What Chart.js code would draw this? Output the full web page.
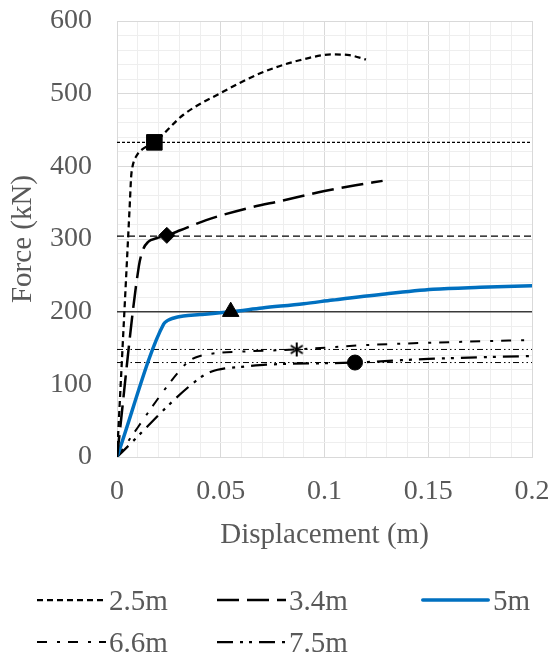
<!DOCTYPE html>
<html><head><meta charset="utf-8">
<script src="https://cdn.jsdelivr.net/npm/chart.js@4.4.1/dist/chart.umd.min.js"></script>
<style>html,body{margin:0;padding:0;background:#fff;}#wrap{width:551px;height:661px;position:relative;}</style>
</head><body><div id="wrap"><canvas id="c" width="551" height="661"></canvas></div>
<script>
// ---- data ----
const seriesNames = ['2.5m', '3.4m', '5m', '6.6m', '7.5m'];

const disp25 = [0, 0.0062, 0.0068, 0.0075, 0.0095, 0.012, 0.018, 0.032, 0.05, 0.069, 0.088, 0.104, 0.112, 0.12];
const force25 = [0, 350, 385, 400, 415, 423, 433, 471, 501, 528, 546, 554, 553, 547];

const disp34 = [0, 0.0105, 0.0125, 0.015, 0.019, 0.024, 0.0305, 0.043, 0.0625, 0.08, 0.1, 0.115, 0.128];
const force34 = [0, 262, 285, 296, 301, 305, 312, 326, 342, 353, 366, 374, 380];

const disp5 = [0, 0.0225, 0.0245, 0.027, 0.032, 0.04, 0.0548, 0.07, 0.09, 0.104, 0.128, 0.1524, 0.175, 0.2];
const force5 = [0, 183, 188, 191, 194, 196, 200, 205, 211, 216, 224, 230.7, 233.5, 235.7];

const disp66 = [0, 0.0305, 0.0352, 0.04, 0.048, 0.06, 0.0866, 0.12, 0.16, 0.2];
const force66 = [0, 120, 133, 139, 143, 145, 148, 154, 158, 161];

const disp75 = [0, 0.04, 0.046, 0.052, 0.06, 0.072, 0.1147, 0.15, 0.2];
const force75 = [0, 109, 118, 122, 124, 127, 130, 135, 139];

const refForces = [433, 304, 200, 148, 130];
const refSpan = [0, 0.2];
const markerDisp = [0.018, 0.024, 0.0548, 0.0866, 0.1147];
const markerForce = [433, 305, 200, 148, 130];

const xTickLabels = ['0', '0.05', '0.1', '0.15', '0.2'];
const yTickLabels = ['0', '100', '200', '300', '400', '500', '600'];

// ---- styles ----
const curveStyles = [
  {color: '#000000', width: 2.25, dash: [6, 4], cap: 'butt'},
  {color: '#000000', width: 2.5, dash: [22, 8], cap: 'butt'},
  {color: '#0070C0', width: 3.5, dash: [], cap: 'round'},
  {color: '#000000', width: 2, dash: [10, 10, 3, 8], cap: 'butt'},
  {color: '#000000', width: 2.25, dash: [16, 7, 3, 6, 3, 7], cap: 'butt'}
];
const refStyles = [
  {color: '#000000', width: 1.2, dash: [3, 2]},
  {color: '#000000', width: 1.2, dash: [7, 4]},
  {color: '#3a3a3a', width: 1.5, dash: []},
  {color: '#000000', width: 1, dash: [6, 3, 1.5, 3, 1.5, 3]},
  {color: '#000000', width: 1, dash: [6, 3, 1.5, 3, 1.5, 3]}
];

// six-armed asterisk marker image
function makeAsterisk() {
  const c = document.createElement('canvas');
  c.width = 16; c.height = 16;
  const g = c.getContext('2d');
  g.strokeStyle = '#000'; g.lineWidth = 2; g.lineCap = 'butt';
  g.beginPath();
  g.moveTo(8, 1); g.lineTo(8, 15);
  g.moveTo(2, 4); g.lineTo(14, 12);
  g.moveTo(2, 12); g.lineTo(14, 4);
  g.stroke();
  return c;
}

const markerStyles = [
  {style: 'rect', r: 11},
  {style: 'rectRot', r: 8},
  {style: 'triangle', r: 9.5},
  {style: makeAsterisk(), r: 8},
  {style: 'circle', r: 7.5}
];

const curveX = [disp25, disp34, disp5, disp66, disp75];
const curveY = [force25, force34, force5, force66, force75];

const zip = (xs, ys) => xs.map((x, i) => ({x: x, y: ys[i]}));

const datasets = [];
markerDisp.forEach((x, i) => {
  datasets.push({
    label: seriesNames[i] + ' marker',
    data: [{x: x, y: markerForce[i]}],
    showLine: false,
    pointStyle: markerStyles[i].style,
    pointRadius: markerStyles[i].r,
    pointBackgroundColor: '#000000',
    pointBorderColor: '#000000',
    pointBorderWidth: 1
  });
});
curveX.forEach((xs, i) => {
  const st = curveStyles[i];
  datasets.push({
    label: seriesNames[i],
    data: zip(xs, curveY[i]),
    showLine: true,
    borderColor: st.color,
    borderWidth: st.width,
    borderDash: st.dash,
    borderCapStyle: st.cap,
    cubicInterpolationMode: 'monotone',
    pointRadius: 0,
    fill: false
  });
});
refForces.forEach((f, i) => {
  const st = refStyles[i];
  datasets.push({
    label: seriesNames[i] + ' ref',
    data: refSpan.map(x => ({x: x, y: f})),
    showLine: true,
    borderColor: st.color,
    borderWidth: st.width,
    borderDash: st.dash,
    pointRadius: 0,
    fill: false
  });
});

const textColor = '#595959';
const fontFamily = '"Liberation Serif", "Times New Roman", serif';

function labelFor(list, v) {
  for (const s of list) { if (Math.abs(Number(s) - v) < 1e-9) return s; }
  return '';
}
function isMajor(list, v) { return labelFor(list, v) !== ''; }

const legendPlugin = {
  id: 'customLegend',
  afterDraw(chart) {
    const ctx = chart.ctx;
    const cols = [37, 217, 421];
    const rows = [610, 652];
    const lineLen = 69, gap = 3;
    seriesNames.forEach((name, i) => {
      const col = i % 3, row = Math.floor(i / 3);
      const x = cols[col], base = rows[row];
      const ly = base - 10;
      const st = curveStyles[i];
      ctx.save();
      ctx.strokeStyle = st.color;
      ctx.lineWidth = st.width;
      ctx.setLineDash(st.dash);
      ctx.lineCap = st.cap;
      ctx.beginPath();
      ctx.moveTo(x + (st.cap === 'round' ? st.width / 2 : 0), ly);
      ctx.lineTo(x + lineLen - (st.cap === 'round' ? st.width / 2 : 0), ly);
      ctx.stroke();
      ctx.setLineDash([]);
      ctx.fillStyle = textColor;
      ctx.font = '29px ' + fontFamily;
      ctx.textBaseline = 'alphabetic';
      ctx.textAlign = 'left';
      ctx.fillText(name, x + lineLen + gap, base);
      ctx.restore();
    });
  }
};

new Chart(document.getElementById('c'), {
  type: 'scatter',
  data: {datasets: datasets},
  options: {
    responsive: false,
    animation: false,
    devicePixelRatio: 1,
    layout: {padding: {top: 21, right: 19, bottom: 104, left: 0}},
    plugins: {legend: {display: false}, tooltip: {enabled: false}},
    scales: {
      x: {
        type: 'linear', min: 0, max: 0.2,
        afterFit: s => { s.height = 100; s.paddingLeft = 0; s.paddingRight = 0; },
        ticks: {
          stepSize: 0.01, autoSkip: false, maxRotation: 0, padding: 18,
          color: textColor, font: {family: fontFamily, size: 28},
          callback: v => labelFor(xTickLabels, v)
        },
        grid: {
          drawTicks: false,
          color: c => isMajor(xTickLabels, c.tick.value) ? '#d9d9d9' : '#eeeeee',
          lineWidth: 1
        },
        border: {display: true, color: '#d9d9d9'},
        title: {display: true, text: 'Displacement (m)', color: textColor, font: {family: fontFamily, size: 29}, padding: 4.6}
      },
      y: {
        type: 'linear', min: 0, max: 600,
        afterFit: s => { s.width = 117; s.paddingTop = 0; s.paddingBottom = 0; },
        ticks: {
          stepSize: 20, autoSkip: false, padding: 25,
          color: textColor, font: {family: fontFamily, size: 28},
          callback: v => labelFor(yTickLabels, v)
        },
        grid: {
          drawTicks: false,
          color: c => isMajor(yTickLabels, c.tick.value) ? '#d9d9d9' : '#eeeeee',
          lineWidth: 1
        },
        border: {display: true, color: '#d9d9d9'},
        title: {display: true, text: 'Force (kN)', color: textColor, font: {family: fontFamily, size: 29}, padding: 6}
      }
    }
  },
  plugins: [legendPlugin]
});
</script>
</body></html>
